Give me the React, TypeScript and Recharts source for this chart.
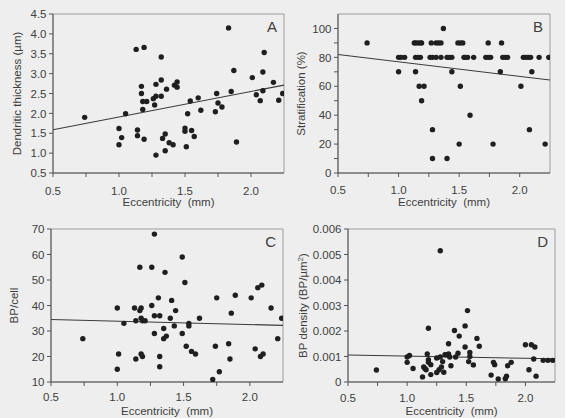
import React from 'react';
import { ScatterChart, Scatter, XAxis, YAxis, ReferenceLine, ReferenceArea, Label } from 'recharts';

const FONT = '"Liberation Sans", Arial, Helvetica, sans-serif';
const INK = '#1f1f1f';
const AXIS = '#555555';
const FRAME = '#9c9c9c';
const TEXT = '#3e3e3e';
const BG = '#eeeeee';

// Shared eccentricity axis (mm)
const eccDomain = [0.5, 2.25];
const eccTicks = [0.5, 0.75, 1.0, 1.25, 1.5, 1.75, 2.0];
const eccLabelTicks = [0.5, 1.0, 1.5, 2.0];

// A: dendritic thickness (µm)
const eccA = [0.74, 1.05, 1.0, 1.02, 1.0, 1.13, 1.19, 1.32, 1.17, 1.17, 1.18, 1.21, 1.18, 1.14, 1.14, 1.19, 1.28, 1.32, 1.26, 1.28, 1.32, 1.27, 1.36, 1.42, 1.44, 1.44, 1.33, 1.35, 1.38, 1.41, 1.35, 1.28, 1.5, 1.5, 1.55, 1.57, 1.52, 1.54, 1.51, 1.6, 1.62, 1.73, 1.74, 1.75, 1.78, 1.83, 1.85, 1.87, 1.89, 2.01, 2.04, 2.07, 2.09, 2.1, 2.09, 2.17, 2.21, 2.24];
const thickA = [1.9, 1.99, 1.62, 1.39, 1.21, 3.61, 3.66, 3.42, 2.68, 2.5, 2.3, 2.3, 2.1, 1.58, 1.44, 1.35, 2.73, 2.84, 2.37, 2.43, 2.43, 2.21, 2.61, 2.71, 2.79, 2.66, 1.37, 1.48, 1.26, 1.21, 1.06, 0.95, 1.63, 1.55, 1.57, 1.42, 1.99, 2.31, 1.16, 2.39, 2.08, 2.04, 2.5, 2.26, 2.16, 4.15, 2.55, 3.08, 1.28, 2.9, 2.47, 2.32, 3.04, 3.53, 2.57, 2.78, 2.33, 2.5];
const fitA = [[0.5, 1.59], [2.25, 2.71]];
const ticksA = [0.5, 1.0, 1.5, 2.0, 2.5, 3.0, 3.5, 4.0, 4.5];

// B: stratification (%)
const eccB = [1.37,
  0.74, 1.13, 1.14, 1.16, 1.18, 1.19, 1.27, 1.31, 1.33, 1.35, 1.49, 1.51, 1.53, 1.74, 1.85,
  1.0, 1.02, 1.05, 1.14, 1.16, 1.18, 1.26, 1.28, 1.31, 1.35, 1.4, 1.42, 1.44, 1.54, 1.55, 1.57, 1.62, 1.72, 1.74, 1.76, 1.86, 1.88, 1.9, 2.03, 2.05, 2.07, 2.09, 2.16, 2.24,
  1.0, 1.14, 1.44, 1.84, 2.1,
  1.17, 1.21, 1.51, 2.01,
  1.19,
  1.59,
  1.28, 2.08,
  1.5, 1.78, 2.21,
  1.28, 1.4];
const stratB = [100,
  90, 90, 90, 90, 90, 90, 90, 90, 90, 90, 90, 90, 90, 90, 90,
  80, 80, 80, 80, 80, 80, 80, 80, 80, 80, 80, 80, 80, 80, 80, 80, 80, 80, 80, 80, 80, 80, 80, 80, 80, 80, 80, 80, 80,
  70, 70, 70, 70, 70,
  60, 60, 60, 60,
  50,
  40,
  30, 30,
  20, 20, 20,
  10, 10];
const fitB = [[0.5, 82], [2.25, 64.3]];
const ticksB = [0, 10, 20, 30, 40, 50, 60, 70, 80, 90, 100];

// C: branch points per cell
const eccC = [0.74, 1.0, 1.0, 1.01, 1.05, 1.13, 1.14, 1.14, 1.17, 1.17, 1.18, 1.18, 1.19, 1.21, 1.18, 1.19, 1.26, 1.28, 1.26, 1.28, 1.32, 1.31, 1.28, 1.32, 1.32, 1.36, 1.35, 1.35, 1.37, 1.4, 1.41, 1.43, 1.44, 1.49, 1.51, 1.49, 1.52, 1.54, 1.54, 1.56, 1.59, 1.62, 1.72, 1.74, 1.75, 1.77, 1.84, 1.85, 1.86, 1.89, 2.01, 2.04, 2.06, 2.09, 2.08, 2.1, 2.16, 2.21, 2.24];
const bpC = [27, 39, 15, 21, 33, 39, 34, 19, 55, 38, 39, 35, 34, 34, 21, 20, 55, 68, 40, 36, 36, 43, 29, 20, 16, 53, 31, 27, 28, 35, 42, 32, 38, 59, 49, 29, 24, 33, 32, 22, 21, 35, 11, 24, 43, 14, 25, 19, 37, 44, 43, 23, 47, 48, 20, 21, 39, 27, 35];
const fitC = [[0.5, 34.5], [2.25, 32.2]];
const ticksC = [10, 20, 30, 40, 50, 60, 70];

// D: branch point density (BP/µm²)
const eccD = [0.74, 1.0, 1.02, 1.0, 1.05, 1.13, 1.14, 1.15, 1.16, 1.17, 1.18, 1.18, 1.18, 1.2, 1.2, 1.25, 1.25, 1.27, 1.28, 1.29, 1.28, 1.3, 1.31, 1.32, 1.33, 1.35, 1.35, 1.36, 1.37, 1.4, 1.41, 1.43, 1.44, 1.49, 1.49, 1.51, 1.52, 1.53, 1.53, 1.56, 1.59, 1.61, 1.71, 1.73, 1.74, 1.77, 1.83, 1.84, 1.85, 1.88, 2.0, 2.03, 2.05, 2.08, 2.07, 2.09, 2.15, 2.19, 2.23];
const densD = [0.00047, 0.00098, 0.00104, 0.00077, 0.00053, 0.0002, 0.00059, 0.00053, 0.00048, 0.0011, 0.00211, 0.00087, 0.00077, 0.00029, 0.00068, 0.00094, 0.00037, 0.00048, 0.00515, 0.00059, 0.00098, 0.0008, 0.00038, 0.00107, 0.00107, 0.0015, 0.0011, 0.00098, 0.00064, 0.00202, 0.00098, 0.00113, 0.0018, 0.0022, 0.00137, 0.0028, 0.0008, 0.00116, 0.001, 0.00067, 0.00171, 0.0014, 0.00027, 0.00077, 0.00068, 0.00012, 0.00013, 0.00023, 0.00064, 0.00077, 0.00146, 0.00048, 0.00146, 0.00137, 0.0009, 0.00023, 0.00085, 0.00085, 0.00085];
const fitD = [[0.5, 0.00106], [2.25, 0.00091]];
const ticksD = [0, 0.001, 0.002, 0.003, 0.004, 0.005, 0.006];

const zip = (xs: number[], ys: number[]) => xs.map((x, i) => ({ x, y: ys[i] }));

const near = (a: number, list: number[]) => list.some((b) => Math.abs(a - b) < 1e-9);

const Dot = (p: any) => <circle cx={p.cx} cy={p.cy} r={2.7} fill={INK} />;

type PanelProps = {
  data: { x: number; y: number }[];
  fit: number[][];
  yDomain: number[];
  yTicks: number[];
  yLabelTicks: number[];
  yFormat: (v: number) => string;
  yLabel: React.ReactNode;
  letter: string;
  left: number;
  top: number;
  width: number;
  height: number;
  margin: { top: number; right: number; left: number; bottom: number };
  yAxisWidth: number;
  xAxisHeight: number;
  xTickDy: number;
  yLabelGap: number;
};

function Panel(props: PanelProps) {
  const {
    data, fit, yDomain, yTicks, yLabelTicks, yFormat, yLabel, letter,
    left, top, width, height, margin, yAxisWidth, xAxisHeight, xTickDy, yLabelGap,
  } = props;

  const XTick = (p: any) => {
    const v = p.payload.value;
    return (
      <g>
        <line x1={p.x} x2={p.x} y1={p.y} y2={p.y + 4} stroke={AXIS} strokeWidth={1} />
        {near(v, eccLabelTicks) && (
          <text x={p.x} y={p.y + xTickDy} textAnchor="middle" fontSize={11.5} fontFamily={FONT} fill={TEXT}>
            {v.toFixed(1)}
          </text>
        )}
      </g>
    );
  };

  const YTick = (p: any) => {
    const v = p.payload.value;
    const major = near(v, yLabelTicks);
    return (
      <g>
        <line x1={p.x - 4} x2={p.x} y1={p.y} y2={p.y} stroke={AXIS} strokeWidth={1} />
        {major && (
          <text x={p.x - 6.5} y={p.y} dy="0.36em" textAnchor="end" fontSize={11.5} fontFamily={FONT} fill={TEXT}>
            {yFormat(v)}
          </text>
        )}
      </g>
    );
  };

  return (
    <div style={{ position: 'absolute', left, top, width, height }}>
      <ScatterChart width={width} height={height} margin={margin}>
        <ReferenceArea
          x1={eccDomain[0]}
          x2={eccDomain[1]}
          y1={yDomain[0]}
          y2={yDomain[1]}
          fill="none"
          stroke={FRAME}
          strokeWidth={1}
          ifOverflow="visible"
        >
          <Label
            value={letter}
            position="insideTopRight"
            offset={7}
            style={{ fontSize: 15, fontFamily: FONT, fill: TEXT }}
          />
        </ReferenceArea>
        <XAxis
          type="number"
          dataKey="x"
          domain={eccDomain}
          ticks={eccTicks}
          allowDataOverflow
          interval={0}
          height={xAxisHeight}
          tickSize={0}
          tickMargin={0}
          tickLine={false}
          stroke={AXIS}
          tick={XTick}
          label={{
            content: (lp: any) => {
              const vb = lp.viewBox || {};
              return (
                <text
                  x={vb.x + vb.width / 2}
                  y={vb.y + 33}
                  textAnchor="middle"
                  fontSize={11.5}
                  fontFamily={FONT}
                  fill={TEXT}
                >
                  {'Eccentricity\u00a0\u00a0(mm)'}
                </text>
              );
            },
          }}
        />
        <YAxis
          type="number"
          dataKey="y"
          domain={yDomain}
          ticks={yTicks}
          allowDataOverflow
          interval={0}
          width={yAxisWidth}
          tickSize={0}
          tickMargin={0}
          tickLine={false}
          stroke={AXIS}
          tick={YTick}
          label={{
            content: (lp: any) => {
              const vb = lp.viewBox || {};
              const cx = vb.x + vb.width - yLabelGap;
              const cy = vb.y + vb.height / 2;
              return (
                <text
                  x={cx}
                  y={cy}
                  dy="0.36em"
                  transform={`rotate(-90, ${cx}, ${cy})`}
                  textAnchor="middle"
                  fontSize={11.5}
                  fontFamily={FONT}
                  fill={TEXT}
                >
                  {yLabel}
                </text>
              );
            },
          }}
        />
        <ReferenceLine
          segment={[{ x: fit[0][0], y: fit[0][1] }, { x: fit[1][0], y: fit[1][1] }]}
          stroke="#3a3a3a"
          strokeWidth={1.1}
        />
        <Scatter data={data} shape={Dot} isAnimationActive={false} />
      </ScatterChart>
    </div>
  );
}

export default function App() {
  return (
    <div
      style={{
        position: 'absolute',
        left: 0,
        top: 0,
        width: 565,
        height: 418,
        background: BG,
        overflow: 'hidden',
      }}
    >
      <Panel
        data={zip(eccA, thickA)}
        fit={fitA}
        yDomain={[0.5, 4.5]}
        yTicks={ticksA}
        yLabelTicks={ticksA}
        yFormat={(v) => v.toFixed(1)}
        yLabel="Dendritic thickness (µm)"
        letter="A"
        left={0}
        top={0}
        width={290}
        height={210}
        margin={{ top: 14, right: 6, left: 0, bottom: 0 }}
        yAxisWidth={53}
        xAxisHeight={37}
        xTickDy={21.5}
        yLabelGap={36}
      />
      <Panel
        data={zip(eccB, stratB)}
        fit={fitB}
        yDomain={[0, 110]}
        yTicks={ticksB}
        yLabelTicks={[0, 20, 40, 60, 80, 100]}
        yFormat={(v) => String(v)}
        yLabel="Stratification (%)"
        letter="B"
        left={280}
        top={0}
        width={285}
        height={210}
        margin={{ top: 14, right: 15, left: 0, bottom: 0 }}
        yAxisWidth={58}
        xAxisHeight={37}
        xTickDy={21}
        yLabelGap={37.5}
      />
      <Panel
        data={zip(eccC, bpC)}
        fit={fitC}
        yDomain={[10, 70]}
        yTicks={ticksC}
        yLabelTicks={ticksC}
        yFormat={(v) => String(v)}
        yLabel="BP/cell"
        letter="C"
        left={0}
        top={210}
        width={290}
        height={208}
        margin={{ top: 19, right: 7, left: 0, bottom: 0 }}
        yAxisWidth={51}
        xAxisHeight={36}
        xTickDy={19}
        yLabelGap={37}
      />
      <Panel
        data={zip(eccD, densD)}
        fit={fitD}
        yDomain={[0, 0.006]}
        yTicks={ticksD}
        yLabelTicks={ticksD}
        yFormat={(v) => (v === 0 ? '0' : v.toFixed(3))}
        yLabel={
          <>
            <tspan>BP density (BP/µm</tspan>
            <tspan dy={-4} fontSize={8}>2</tspan>
            <tspan dy={4}>)</tspan>
          </>
        }
        letter="D"
        left={290}
        top={210}
        width={275}
        height={208}
        margin={{ top: 19, right: 10, left: 0, bottom: 0 }}
        yAxisWidth={58}
        xAxisHeight={36}
        xTickDy={19.5}
        yLabelGap={45.5}
      />
    </div>
  );
}
